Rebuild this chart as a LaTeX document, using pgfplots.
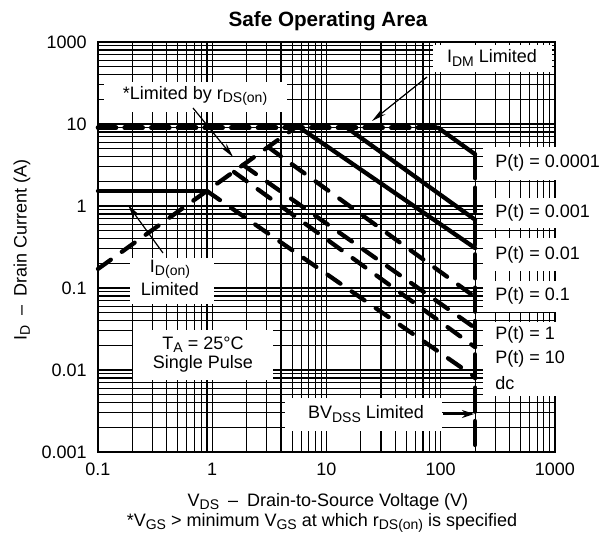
\documentclass[border=0pt]{standalone}
\usepackage{fontspec}
\setmainfont{Liberation Sans}
\usepackage{pgfplots}
\pgfplotsset{compat=1.18}
\usetikzlibrary{arrows.meta}

% subscripts as in the data sheet
\newcommand\sub[1]{\raisebox{-0.35ex}{\fontsize{10.5}{12}\selectfont #1}}

\pgfplotsset{
  soa/.style={black, line width=3.2pt, line cap=round},
  soadash/.style={soa, dash pattern=on 11.8pt off 10.2pt},
}

\begin{document}
\begin{tikzpicture}[font=\fontsize{13.5}{16}\selectfont]
\path[use as bounding box] (0,0) rectangle (450pt,405pt);

\begin{axis}[
  at={(73.5pt,66pt)}, anchor=south west,
  scale only axis, width=342.75pt, height=307.5pt,
  xmode=log, ymode=log,
  xmin=0.1, xmax=1000, ymin=0.001, ymax=100,
  xtick={0.1,1,10,100,1000},
  xticklabels={0.1,1,10,100,1000},
  ytick={0.001,0.01,0.1,1,10,100},
  yticklabels={0.001,0.01,0.1,1,10,1000},
  minor xtick={0.2,0.3,0.4,0.5,0.6,0.7,0.8,0.9,2,3,4,5,6,7,8,9,20,30,40,50,60,70,80,90,200,300,400,500,600,700,800,900},
  minor ytick={0.002,0.003,0.004,0.005,0.006,0.007,0.008,0.009,0.02,0.03,0.04,0.05,0.06,0.07,0.08,0.09,0.2,0.3,0.4,0.5,0.6,0.7,0.8,0.9,2,3,4,5,6,7,8,9,20,30,40,50,60,70,80,90},
  grid=both,
  major grid style={black, line width=0.85pt},
  minor grid style={black, line width=0.85pt},
  axis line style={line width=0.85pt},
  major tick length=0pt, minor tick length=0pt,
  xticklabel style={yshift=-5pt},
  yticklabel style={xshift=-5pt},
  clip=false,
]
% I_D(on) limit
\addplot[soa] coordinates {(0.1,1.52) (0.9,1.52)};
% r_DS(on) limit
\addplot[soadash] coordinates {(0.1,0.171) (5.3,9)};
% I_DM limit
\addplot[soa, line width=3.5pt, dash pattern=on 13.5pt off 6.5pt] coordinates {(0.1,9) (95,9)};
% P(t) = 0.0001
\addplot[soa] coordinates {(95,9) (200,4.27)};
% BV_DSS limit
\addplot[soa, dash pattern=on 18pt off 7pt] coordinates {(200,4.27) (200,0.001)};
% P(t) = 0.001
\addplot[soa] coordinates {(15.1,9) (200,0.68)};
% P(t) = 0.01
\addplot[soa] coordinates {(5.86,9) (200,0.307)};
% P(t) = 0.1
\addplot[soadash] coordinates {(3.08,5.25) (200,0.0776)};
% P(t) = 1
\addplot[soadash] coordinates {(1.86,3.17) (200,0.0325)};
% P(t) = 10
\addplot[soadash] coordinates {(1.55,2.6) (200,0.019)};
% dc
\addplot[soadash] coordinates {(0.9,1.52) (200,0.0082)};
\end{axis}

% labels and callouts, placed in pixels of the 600x540 sheet
\begin{scope}[x=0.75pt, y=-0.75pt, yshift=405pt]
\node[font=\bfseries\fontsize{15.5}{18}\selectfont] at (328,21) {Safe Operating Area};
\node[rotate=90] at (22,250) {I\sub{D}\enspace–\enspace Drain Current (A)};
\node[inner sep=0pt] at (328,502) {V\sub{DS}\enspace–\enspace Drain-to-Source Voltage (V)};
\node[inner sep=0pt] at (322,523) {*V\sub{GS} > minimum V\sub{GS} at which r\sub{DS(on)} is specified};

\fill[white] (104,82) rectangle (287,112);
\node at (195,96) {*Limited by r\sub{DS(on)}};
\draw[line width=0.9pt, -{Stealth[length=11pt,width=5pt]}] (193,108) -- (233,157);

\fill[white] (433,45) rectangle (552,72);
\node at (492,58) {I\sub{DM} Limited};
\draw[line width=0.9pt, -{Stealth[length=11pt,width=5pt]}] (427,77) -- (372,121);

\fill[white] (130,258) rectangle (214,304);
\node at (170,269) {I\sub{D(on)}};
\node at (170,289) {Limited};
\draw[line width=0.9pt, -{Stealth[length=11pt,width=5pt]}] (163,253) -- (128,205);

\fill[white] (133,330) rectangle (273,380);
\node at (203,345) {T\sub{A} = 25°C};
\node at (203,364) {Single Pulse};

\fill[white] (285,398) rectangle (442,431);
\node at (366,414) {BV\sub{DSS} Limited};
\draw[line width=1.2pt, -{Stealth[length=9pt,width=6pt]}] (443,414) -- (474,414);

\fill[white] (483,147) rectangle (600,180);
\fill[white] (483,198) rectangle (600,228);
\fill[white] (483,238) rectangle (600,271);
\fill[white] (483,281) rectangle (600,312);
\fill[white] (483,322) rectangle (600,396);
\node[anchor=west, inner sep=0pt] at (495,163) {P(t) = 0.0001};
\node[anchor=west, inner sep=0pt] at (495,213) {P(t) = 0.001};
\node[anchor=west, inner sep=0pt] at (495,255) {P(t) = 0.01};
\node[anchor=west, inner sep=0pt] at (495,296) {P(t) = 0.1};
\node[anchor=west, inner sep=0pt] at (495,335) {P(t) = 1};
\node[anchor=west, inner sep=0pt] at (495,359) {P(t) = 10};
\node[anchor=west, inner sep=0pt] at (495,383) {dc};
\end{scope}
\end{tikzpicture}
\end{document}
